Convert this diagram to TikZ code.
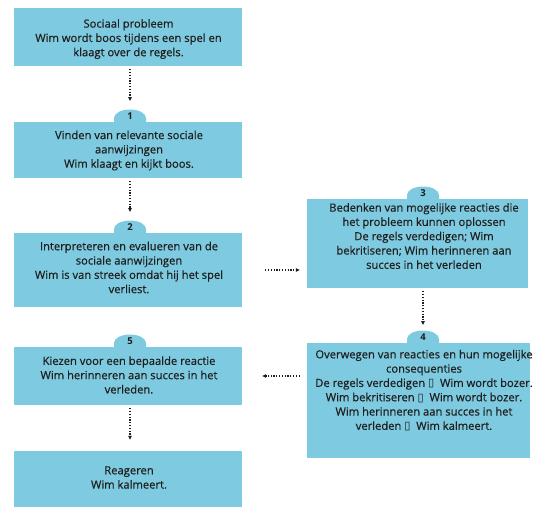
\documentclass[tikz,border=0pt]{standalone}
\usepackage{fontspec}
\setmainfont{Open Sans}
\newfontfamily\txtfont{Open Sans}[FakeBold=0.5]
\newfontfamily\symfont{DejaVu Sans}
\usetikzlibrary{arrows.meta}
\definecolor{boxcyan}{RGB}{126,202,224}
\definecolor{inkgrey}{RGB}{30,30,30}
\newcommand\missing{{\symfont\char"25AF}}
\newcommand\tabshape[2]{%
  \fill[boxcyan] (#1-16,#2+1) -- (#1-16,#2-4) arc[start angle=180,end angle=360,x radius=16,y radius=8.5] -- (#1+16,#2+1) -- cycle;}
\tikzset{
  box/.style={fill=boxcyan, draw=none, inner sep=0pt},
  txt/.style={align=center, font=\txtfont\fontsize{11.2}{14.3}\selectfont, text=inkgrey, inner sep=0pt},
  num/.style={font=\bfseries\fontsize{9.5}{10}\selectfont, text=inkgrey, inner sep=0pt},
  arr/.style={line width=1.1pt, dash pattern=on 1.2pt off 1.6pt, -{Triangle[length=4pt,width=3.5pt]}, draw=inkgrey},
}
\begin{document}
\begin{tikzpicture}[x=1pt,y=-1pt]
\fill[white] (0,0) rectangle (542,512);
\useasboundingbox (0,0) rectangle (542,512);
% tabs
\tabshape{130}{122}
\tabshape{130}{233}
\tabshape{130}{347}
\tabshape{423}{199}
\tabshape{423}{343}
% boxes
\node[box, minimum width=228, minimum height=58] (b0) at (128,37) {};
\node[box, minimum width=228, minimum height=56] (b1) at (128,150) {};
\node[box, minimum width=228, minimum height=74] (b2) at (128,270) {};
\node[box, minimum width=228, minimum height=58] (b5) at (128,376) {};
\node[box, minimum width=228, minimum height=56] (b6) at (128,479) {};
\node[box, minimum width=221, minimum height=89] (b3) at (417.5,243.5) {};
\node[box, minimum width=223, minimum height=115] (b4) at (418.5,400.5) {};
% tab tops
\coordinate (t1) at (130,110);
\coordinate (t2) at (130,220);
\coordinate (t5) at (130,334);
\coordinate (t3) at (423,187);
\coordinate (t4) at (423,331);
% numbers
\node[num] (n1) at (130,116) {1};
\node[num] (n2) at (130,227.5) {2};
\node[num] (n5) at (130,341) {5};
\node[num] (n3) at (423,193) {3};
\node[num] (n4) at (423,337) {4};
% texts
\node[txt] (b0t) at (128.5,39) {Sociaal probleem\\Wim wordt boos tijdens een spel en\\klaagt over de regels.};
\node[txt] (b1t) at (129,150.5) {Vinden van relevante sociale\\aanwijzingen\\Wim klaagt en kijkt boos.};
\node[txt] (b2t) at (129,267.5) {Interpreteren en evalueren van de\\sociale aanwijzingen\\Wim is van streek omdat hij het spel\\verliest.};
\node[txt] (b5t) at (129,375) {Kiezen voor een bepaalde reactie\\Wim herinneren aan succes in het\\verleden.};
\node[txt] (b6t) at (129,477.5) {Reageren\\Wim kalmeert.};
\node[txt] (b3t) at (424,236) {Bedenken van mogelijke reacties die\\het probleem kunnen oplossen\\De regels verdedigen; Wim\\bekritiseren; Wim herinneren aan\\succes in het verleden};
\node[txt] (b4t) at (424,390.5) {Overwegen van reacties en hun mogelijke\\consequenties\\De regels verdedigen \missing\ \ Wim wordt bozer.\\Wim bekritiseren \missing\ \ Wim wordt bozer.\\Wim herinneren aan succes in het\\verleden \missing\ \ Wim kalmeert.};
% connectors
\draw[arr, shorten <=3pt, shorten >=9pt] (t1 |- b0.south) -- (t1);
\draw[arr, shorten <=3pt, shorten >=8pt] (t2 |- b1.south) -- (t2);
\draw[arr, shorten <=3pt, shorten >=11pt] (t5 |- b5.south) -- (t5 |- b6.north);
\draw[arr, shorten <=3pt, shorten >=6pt] (t4 |- b3.south) -- (t4);
\draw[arr, shorten <=23pt, shorten >=7pt] (b2.east) -- (b2.east -| b3.west);
\draw[arr, shorten <=7pt, shorten >=20pt] (b4.west |- b5.east) -- (b5.east);
\end{tikzpicture}
\end{document}
